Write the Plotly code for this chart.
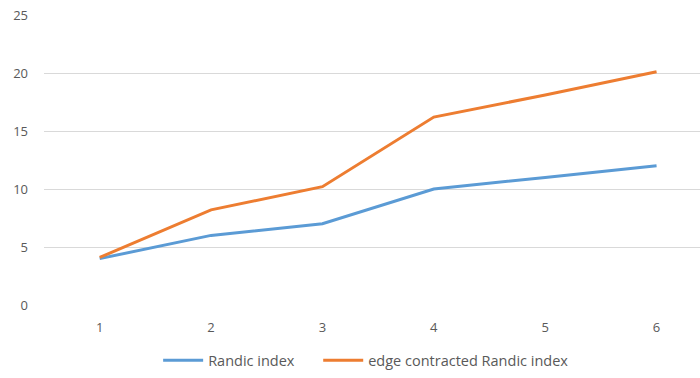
import plotly.graph_objects as go

categories = [1, 2, 3, 4, 5, 6]
randic_index = [4, 6, 7, 10, 11, 12]
edge_contracted_randic = [4.1, 8.2, 10.2, 16.2, 18.1, 20.1]
y_ticks = [0, 5, 10, 15, 20, 25]

font_family = "Open Sans, Liberation Sans, sans-serif"
label_color = "#595959"

fig = go.Figure()
fig.add_trace(go.Scatter(
    x=categories, y=randic_index, mode="lines", name="Randic index",
    legend="legend", line=dict(color="#5B9BD5", width=3),
))
fig.add_trace(go.Scatter(
    x=categories, y=edge_contracted_randic, mode="lines",
    name="edge contracted Randic index", legend="legend2",
    line=dict(color="#ED7D31", width=3),
))

legend_style = dict(orientation="h", y=-0.246, yanchor="bottom", xanchor="left",
                    font=dict(size=14.5, color=label_color), itemwidth=40,
                    bgcolor="rgba(0,0,0,0)")

fig.update_layout(
    width=700, height=378,
    margin=dict(l=44, r=0, t=15, b=73),
    paper_bgcolor="white", plot_bgcolor="white",
    font=dict(family=font_family, size=13, color=label_color),
    showlegend=True,
    legend=dict(x=0.174, **legend_style),
    legend2=dict(x=0.418, **legend_style),
    xaxis=dict(
        tickmode="array", tickvals=categories, ticktext=[str(c) for c in categories],
        range=[0.5, 6.39], showgrid=False, zeroline=False, showline=False,
        ticks="", ticklabelstandoff=13,
    ),
    yaxis=dict(
        tickmode="array", tickvals=y_ticks, range=[0, 25],
        showgrid=True, gridcolor="#D9D9D9", gridwidth=1,
        zeroline=False, showline=False, ticks="", ticklabelstandoff=15,
    ),
)

fig.write_html("out.html")
